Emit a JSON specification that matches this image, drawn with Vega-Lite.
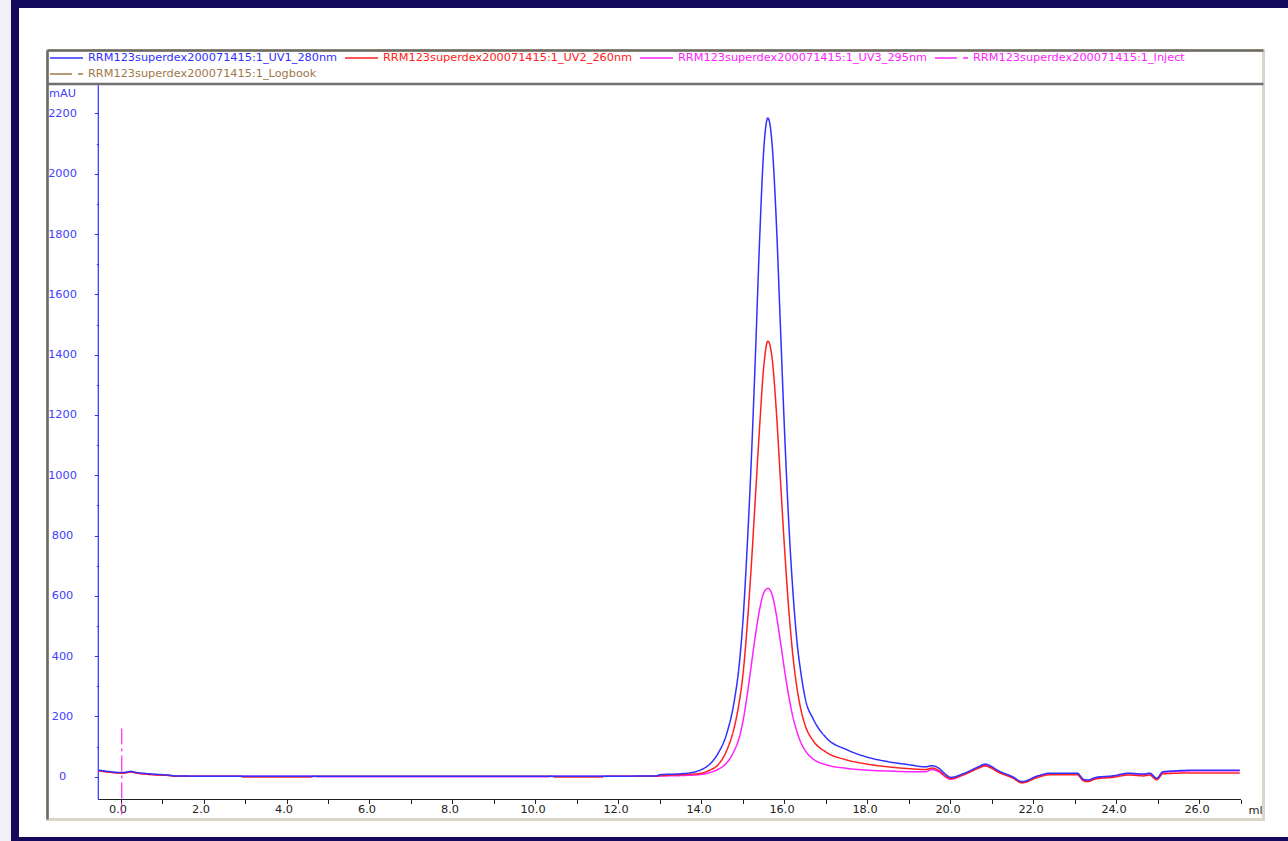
{
  "$schema": "https://vega.github.io/schema/vega-lite/v6.json",
  "width": 1277,
  "height": 837,
  "autosize": {"type": "none"},
  "padding": {"left": 15, "top": 4, "right": -4, "bottom": 0},
  "background": "#f0f0f5",
  "config": {"view": {"fill": "#ffffff", "stroke": "#15095e", "strokeWidth": 8}, "font": "DejaVu Sans"},
  "resolve": {"axis": {"x": "independent", "y": "independent"}},
  "layer": [
    {
      "data": {"values": [{}]},
      "mark": {"type": "rect", "fill": "#ffffff", "fillOpacity": 0, "stroke": "#dad6ca", "strokeWidth": 3},
      "encoding": {
        "x": {"datum": -1.759, "type": "quantitative", "scale": {"domain": [-2.5422, 28.229], "nice": false, "zero": false}, "axis": null},
        "x2": {"datum": 27.542},
        "y": {"datum": 2409, "type": "quantitative", "scale": {"domain": [-212.94, 2563.18], "nice": false, "zero": false}, "axis": null},
        "y2": {"datum": -141.6}
      }
    },
    {
      "data": {"values": [{}]},
      "mark": {"type": "rule", "stroke": "#6d6b60", "strokeWidth": 2.5},
      "encoding": {
        "x": {"datum": -1.759, "type": "quantitative", "scale": {"domain": [-2.5422, 28.229], "nice": false, "zero": false}, "axis": null},
        "x2": {"datum": 27.542},
        "y": {"datum": 2409, "type": "quantitative", "scale": {"domain": [-212.94, 2563.18], "nice": false, "zero": false}, "axis": null}
      }
    },
    {
      "data": {"values": [{}]},
      "mark": {"type": "rule", "stroke": "#6d6b60", "strokeWidth": 2.5},
      "encoding": {
        "x": {"datum": -1.759, "type": "quantitative", "scale": {"domain": [-2.5422, 28.229], "nice": false, "zero": false}, "axis": null},
        "y": {"datum": 2409, "type": "quantitative", "scale": {"domain": [-212.94, 2563.18], "nice": false, "zero": false}, "axis": null},
        "y2": {"datum": -141.6}
      }
    },
    {
      "data": {"values": [{}]},
      "mark": {"type": "rule", "stroke": "#707070", "strokeWidth": 2.5},
      "encoding": {
        "x": {"datum": -1.759, "type": "quantitative", "scale": {"domain": [-2.5422, 28.229], "nice": false, "zero": false}, "axis": null},
        "x2": {"datum": 27.542},
        "y": {"datum": 2297.8, "type": "quantitative", "scale": {"domain": [-212.94, 2563.18], "nice": false, "zero": false}, "axis": null}
      }
    },
    {
      "data": {"values": [{}]},
      "mark": {"type": "rule", "stroke": "#222222", "strokeWidth": 1.2},
      "encoding": {
        "x": {"datum": -0.535, "type": "quantitative", "scale": {"domain": [-2.5422, 28.229], "nice": false, "zero": false}, "axis": null},
        "x2": {"datum": 27.0},
        "y": {"datum": -75.3, "type": "quantitative", "scale": {"domain": [-212.94, 2563.18], "nice": false, "zero": false}, "axis": null}
      }
    },
    {
      "data": {"values": [{}]},
      "mark": {"type": "rule", "stroke": "#3030ff", "strokeWidth": 1.2},
      "encoding": {
        "x": {"datum": -0.535, "type": "quantitative", "scale": {"domain": [-2.5422, 28.229], "nice": false, "zero": false}, "axis": null},
        "y": {"datum": -75.3, "type": "quantitative", "scale": {"domain": [-212.94, 2563.18], "nice": false, "zero": false}, "axis": null},
        "y2": {"datum": 2294}
      }
    },
    {
      "data": {"values": [{"event": "Inject", "ml": 0.03, "top": 160, "bottom": -125}]},
      "mark": {"type": "rule", "stroke": "#ff22ff", "strokeWidth": 1.2, "strokeDash": [16, 4, 3, 4]},
      "encoding": {
        "x": {"field": "ml", "type": "quantitative", "scale": {"domain": [-2.5422, 28.229], "nice": false, "zero": false}, "axis": null},
        "y": {"field": "top", "type": "quantitative", "scale": {"domain": [-212.94, 2563.18], "nice": false, "zero": false}, "axis": null},
        "y2": {"field": "bottom"}
      }
    },
    {
      "data": {"values": [
        {"trace": "UV3_295nm", "ml": -0.53, "mAU": 20}, {"trace": "UV3_295nm", "ml": -0.3, "mAU": 16}, {"trace": "UV3_295nm", "ml": -0.1, "mAU": 13}, {"trace": "UV3_295nm", "ml": 0.05, "mAU": 12}, {"trace": "UV3_295nm", "ml": 0.15, "mAU": 14}, {"trace": "UV3_295nm", "ml": 0.25, "mAU": 16}, {"trace": "UV3_295nm", "ml": 0.4, "mAU": 12}, {"trace": "UV3_295nm", "ml": 0.6, "mAU": 9}, {"trace": "UV3_295nm", "ml": 0.9, "mAU": 6}, {"trace": "UV3_295nm", "ml": 1.2, "mAU": 4}, {"trace": "UV3_295nm", "ml": 1.3, "mAU": 2}, {"trace": "UV3_295nm", "ml": 2.0, "mAU": 1.5}, {"trace": "UV3_295nm", "ml": 4.7, "mAU": 1.5}, {"trace": "UV3_295nm", "ml": 4.75, "mAU": 0.5}, {"trace": "UV3_295nm", "ml": 10.3, "mAU": 0.5}, {"trace": "UV3_295nm", "ml": 10.35, "mAU": 1.5}, {"trace": "UV3_295nm", "ml": 12.9, "mAU": 2}, {"trace": "UV3_295nm", "ml": 13.0, "mAU": 2.5}, {"trace": "UV3_295nm", "ml": 13.5, "mAU": 4}, {"trace": "UV3_295nm", "ml": 14.0, "mAU": 8}, {"trace": "UV3_295nm", "ml": 14.2, "mAU": 14}, {"trace": "UV3_295nm", "ml": 14.4, "mAU": 25}, {"trace": "UV3_295nm", "ml": 14.6, "mAU": 45}, {"trace": "UV3_295nm", "ml": 14.8, "mAU": 90}, {"trace": "UV3_295nm", "ml": 14.9, "mAU": 125}, {"trace": "UV3_295nm", "ml": 15.0, "mAU": 185}, {"trace": "UV3_295nm", "ml": 15.1, "mAU": 270}, {"trace": "UV3_295nm", "ml": 15.2, "mAU": 370}, {"trace": "UV3_295nm", "ml": 15.3, "mAU": 470}, {"trace": "UV3_295nm", "ml": 15.4, "mAU": 555}, {"trace": "UV3_295nm", "ml": 15.5, "mAU": 610}, {"trace": "UV3_295nm", "ml": 15.6, "mAU": 625}, {"trace": "UV3_295nm", "ml": 15.7, "mAU": 605}, {"trace": "UV3_295nm", "ml": 15.8, "mAU": 540}, {"trace": "UV3_295nm", "ml": 15.9, "mAU": 450}, {"trace": "UV3_295nm", "ml": 16.0, "mAU": 355}, {"trace": "UV3_295nm", "ml": 16.1, "mAU": 270}, {"trace": "UV3_295nm", "ml": 16.2, "mAU": 200}, {"trace": "UV3_295nm", "ml": 16.3, "mAU": 150}, {"trace": "UV3_295nm", "ml": 16.4, "mAU": 112}, {"trace": "UV3_295nm", "ml": 16.5, "mAU": 87}, {"trace": "UV3_295nm", "ml": 16.7, "mAU": 58}, {"trace": "UV3_295nm", "ml": 17.0, "mAU": 40}, {"trace": "UV3_295nm", "ml": 17.5, "mAU": 28}, {"trace": "UV3_295nm", "ml": 18.0, "mAU": 22}, {"trace": "UV3_295nm", "ml": 18.5, "mAU": 19}, {"trace": "UV3_295nm", "ml": 19.0, "mAU": 17}, {"trace": "UV3_295nm", "ml": 19.4, "mAU": 17}, {"trace": "UV3_295nm", "ml": 19.55, "mAU": 24}, {"trace": "UV3_295nm", "ml": 19.7, "mAU": 18}, {"trace": "UV3_295nm", "ml": 19.9, "mAU": -2}, {"trace": "UV3_295nm", "ml": 20.0, "mAU": -8}, {"trace": "UV3_295nm", "ml": 20.3, "mAU": 6}, {"trace": "UV3_295nm", "ml": 20.7, "mAU": 32}, {"trace": "UV3_295nm", "ml": 20.82, "mAU": 38}, {"trace": "UV3_295nm", "ml": 21.2, "mAU": 14}, {"trace": "UV3_295nm", "ml": 21.5, "mAU": -3}, {"trace": "UV3_295nm", "ml": 21.72, "mAU": -19}, {"trace": "UV3_295nm", "ml": 22.1, "mAU": 1}, {"trace": "UV3_295nm", "ml": 22.4, "mAU": 10}, {"trace": "UV3_295nm", "ml": 23.05, "mAU": 10}, {"trace": "UV3_295nm", "ml": 23.2, "mAU": -10}, {"trace": "UV3_295nm", "ml": 23.3, "mAU": -13}, {"trace": "UV3_295nm", "ml": 23.5, "mAU": -4}, {"trace": "UV3_295nm", "ml": 23.9, "mAU": 1}, {"trace": "UV3_295nm", "ml": 24.3, "mAU": 10}, {"trace": "UV3_295nm", "ml": 24.65, "mAU": 7}, {"trace": "UV3_295nm", "ml": 24.8, "mAU": 10}, {"trace": "UV3_295nm", "ml": 24.97, "mAU": -7}, {"trace": "UV3_295nm", "ml": 25.12, "mAU": 15}, {"trace": "UV3_295nm", "ml": 26.0, "mAU": 20}, {"trace": "UV3_295nm", "ml": 26.97, "mAU": 20},
        {"trace": "UV2_260nm", "ml": -0.53, "mAU": 20}, {"trace": "UV2_260nm", "ml": -0.3, "mAU": 16}, {"trace": "UV2_260nm", "ml": -0.1, "mAU": 13}, {"trace": "UV2_260nm", "ml": 0.05, "mAU": 12}, {"trace": "UV2_260nm", "ml": 0.15, "mAU": 14}, {"trace": "UV2_260nm", "ml": 0.25, "mAU": 16}, {"trace": "UV2_260nm", "ml": 0.4, "mAU": 12}, {"trace": "UV2_260nm", "ml": 0.6, "mAU": 9}, {"trace": "UV2_260nm", "ml": 0.9, "mAU": 6}, {"trace": "UV2_260nm", "ml": 1.2, "mAU": 4}, {"trace": "UV2_260nm", "ml": 1.3, "mAU": 2}, {"trace": "UV2_260nm", "ml": 2.0, "mAU": 1.5}, {"trace": "UV2_260nm", "ml": 2.9, "mAU": 1.5}, {"trace": "UV2_260nm", "ml": 2.95, "mAU": -0.5}, {"trace": "UV2_260nm", "ml": 4.6, "mAU": -0.5}, {"trace": "UV2_260nm", "ml": 4.65, "mAU": 1.5}, {"trace": "UV2_260nm", "ml": 10.4, "mAU": 1.5}, {"trace": "UV2_260nm", "ml": 10.45, "mAU": -0.5}, {"trace": "UV2_260nm", "ml": 11.6, "mAU": -0.5}, {"trace": "UV2_260nm", "ml": 11.65, "mAU": 1.5}, {"trace": "UV2_260nm", "ml": 12.9, "mAU": 2}, {"trace": "UV2_260nm", "ml": 13.0, "mAU": 4}, {"trace": "UV2_260nm", "ml": 13.5, "mAU": 7}, {"trace": "UV2_260nm", "ml": 13.8, "mAU": 9}, {"trace": "UV2_260nm", "ml": 14.0, "mAU": 12}, {"trace": "UV2_260nm", "ml": 14.2, "mAU": 22}, {"trace": "UV2_260nm", "ml": 14.4, "mAU": 40}, {"trace": "UV2_260nm", "ml": 14.6, "mAU": 85}, {"trace": "UV2_260nm", "ml": 14.8, "mAU": 170}, {"trace": "UV2_260nm", "ml": 14.9, "mAU": 240}, {"trace": "UV2_260nm", "ml": 15.0, "mAU": 340}, {"trace": "UV2_260nm", "ml": 15.1, "mAU": 500}, {"trace": "UV2_260nm", "ml": 15.2, "mAU": 700}, {"trace": "UV2_260nm", "ml": 15.3, "mAU": 930}, {"trace": "UV2_260nm", "ml": 15.4, "mAU": 1160}, {"trace": "UV2_260nm", "ml": 15.5, "mAU": 1360}, {"trace": "UV2_260nm", "ml": 15.6, "mAU": 1445}, {"trace": "UV2_260nm", "ml": 15.7, "mAU": 1390}, {"trace": "UV2_260nm", "ml": 15.8, "mAU": 1220}, {"trace": "UV2_260nm", "ml": 15.9, "mAU": 990}, {"trace": "UV2_260nm", "ml": 16.0, "mAU": 760}, {"trace": "UV2_260nm", "ml": 16.1, "mAU": 560}, {"trace": "UV2_260nm", "ml": 16.2, "mAU": 405}, {"trace": "UV2_260nm", "ml": 16.3, "mAU": 295}, {"trace": "UV2_260nm", "ml": 16.4, "mAU": 220}, {"trace": "UV2_260nm", "ml": 16.5, "mAU": 170}, {"trace": "UV2_260nm", "ml": 16.7, "mAU": 118}, {"trace": "UV2_260nm", "ml": 17.0, "mAU": 82}, {"trace": "UV2_260nm", "ml": 17.5, "mAU": 56}, {"trace": "UV2_260nm", "ml": 18.0, "mAU": 42}, {"trace": "UV2_260nm", "ml": 18.5, "mAU": 33}, {"trace": "UV2_260nm", "ml": 19.0, "mAU": 27}, {"trace": "UV2_260nm", "ml": 19.4, "mAU": 24}, {"trace": "UV2_260nm", "ml": 19.55, "mAU": 29}, {"trace": "UV2_260nm", "ml": 19.7, "mAU": 22}, {"trace": "UV2_260nm", "ml": 19.9, "mAU": 0}, {"trace": "UV2_260nm", "ml": 20.0, "mAU": -6}, {"trace": "UV2_260nm", "ml": 20.3, "mAU": 6}, {"trace": "UV2_260nm", "ml": 20.7, "mAU": 30}, {"trace": "UV2_260nm", "ml": 20.82, "mAU": 36}, {"trace": "UV2_260nm", "ml": 21.2, "mAU": 12}, {"trace": "UV2_260nm", "ml": 21.5, "mAU": -4}, {"trace": "UV2_260nm", "ml": 21.72, "mAU": -20}, {"trace": "UV2_260nm", "ml": 22.1, "mAU": -2}, {"trace": "UV2_260nm", "ml": 22.4, "mAU": 7}, {"trace": "UV2_260nm", "ml": 23.05, "mAU": 7}, {"trace": "UV2_260nm", "ml": 23.2, "mAU": -13}, {"trace": "UV2_260nm", "ml": 23.3, "mAU": -16}, {"trace": "UV2_260nm", "ml": 23.5, "mAU": -7}, {"trace": "UV2_260nm", "ml": 23.9, "mAU": -2}, {"trace": "UV2_260nm", "ml": 24.3, "mAU": 6}, {"trace": "UV2_260nm", "ml": 24.65, "mAU": 3}, {"trace": "UV2_260nm", "ml": 24.8, "mAU": 6}, {"trace": "UV2_260nm", "ml": 24.97, "mAU": -10}, {"trace": "UV2_260nm", "ml": 25.12, "mAU": 10}, {"trace": "UV2_260nm", "ml": 26.0, "mAU": 13}, {"trace": "UV2_260nm", "ml": 26.97, "mAU": 13},
        {"trace": "UV1_280nm", "ml": -0.53, "mAU": 22}, {"trace": "UV1_280nm", "ml": -0.3, "mAU": 18}, {"trace": "UV1_280nm", "ml": -0.1, "mAU": 15}, {"trace": "UV1_280nm", "ml": 0.05, "mAU": 14}, {"trace": "UV1_280nm", "ml": 0.15, "mAU": 16}, {"trace": "UV1_280nm", "ml": 0.25, "mAU": 18}, {"trace": "UV1_280nm", "ml": 0.4, "mAU": 14}, {"trace": "UV1_280nm", "ml": 0.6, "mAU": 11}, {"trace": "UV1_280nm", "ml": 0.9, "mAU": 8}, {"trace": "UV1_280nm", "ml": 1.2, "mAU": 5}, {"trace": "UV1_280nm", "ml": 1.3, "mAU": 3}, {"trace": "UV1_280nm", "ml": 2.0, "mAU": 2}, {"trace": "UV1_280nm", "ml": 3.0, "mAU": 2}, {"trace": "UV1_280nm", "ml": 5.0, "mAU": 1.5}, {"trace": "UV1_280nm", "ml": 8.0, "mAU": 1.5}, {"trace": "UV1_280nm", "ml": 10.0, "mAU": 1.5}, {"trace": "UV1_280nm", "ml": 12.0, "mAU": 2}, {"trace": "UV1_280nm", "ml": 12.9, "mAU": 3}, {"trace": "UV1_280nm", "ml": 13.0, "mAU": 7}, {"trace": "UV1_280nm", "ml": 13.5, "mAU": 10}, {"trace": "UV1_280nm", "ml": 13.8, "mAU": 15}, {"trace": "UV1_280nm", "ml": 14.0, "mAU": 24}, {"trace": "UV1_280nm", "ml": 14.2, "mAU": 42}, {"trace": "UV1_280nm", "ml": 14.4, "mAU": 78}, {"trace": "UV1_280nm", "ml": 14.6, "mAU": 140}, {"trace": "UV1_280nm", "ml": 14.8, "mAU": 260}, {"trace": "UV1_280nm", "ml": 14.9, "mAU": 360}, {"trace": "UV1_280nm", "ml": 15.0, "mAU": 520}, {"trace": "UV1_280nm", "ml": 15.1, "mAU": 760}, {"trace": "UV1_280nm", "ml": 15.2, "mAU": 1050}, {"trace": "UV1_280nm", "ml": 15.3, "mAU": 1400}, {"trace": "UV1_280nm", "ml": 15.4, "mAU": 1780}, {"trace": "UV1_280nm", "ml": 15.5, "mAU": 2080}, {"trace": "UV1_280nm", "ml": 15.6, "mAU": 2185}, {"trace": "UV1_280nm", "ml": 15.7, "mAU": 2100}, {"trace": "UV1_280nm", "ml": 15.8, "mAU": 1850}, {"trace": "UV1_280nm", "ml": 15.9, "mAU": 1500}, {"trace": "UV1_280nm", "ml": 16.0, "mAU": 1150}, {"trace": "UV1_280nm", "ml": 16.1, "mAU": 850}, {"trace": "UV1_280nm", "ml": 16.2, "mAU": 620}, {"trace": "UV1_280nm", "ml": 16.3, "mAU": 450}, {"trace": "UV1_280nm", "ml": 16.4, "mAU": 340}, {"trace": "UV1_280nm", "ml": 16.5, "mAU": 260}, {"trace": "UV1_280nm", "ml": 16.7, "mAU": 190}, {"trace": "UV1_280nm", "ml": 17.0, "mAU": 130}, {"trace": "UV1_280nm", "ml": 17.5, "mAU": 90}, {"trace": "UV1_280nm", "ml": 18.0, "mAU": 65}, {"trace": "UV1_280nm", "ml": 18.5, "mAU": 50}, {"trace": "UV1_280nm", "ml": 19.0, "mAU": 40}, {"trace": "UV1_280nm", "ml": 19.4, "mAU": 33}, {"trace": "UV1_280nm", "ml": 19.55, "mAU": 37}, {"trace": "UV1_280nm", "ml": 19.7, "mAU": 30}, {"trace": "UV1_280nm", "ml": 19.9, "mAU": 6}, {"trace": "UV1_280nm", "ml": 20.0, "mAU": -2}, {"trace": "UV1_280nm", "ml": 20.3, "mAU": 10}, {"trace": "UV1_280nm", "ml": 20.7, "mAU": 35}, {"trace": "UV1_280nm", "ml": 20.82, "mAU": 42}, {"trace": "UV1_280nm", "ml": 21.2, "mAU": 17}, {"trace": "UV1_280nm", "ml": 21.5, "mAU": 0}, {"trace": "UV1_280nm", "ml": 21.72, "mAU": -16}, {"trace": "UV1_280nm", "ml": 22.1, "mAU": 3}, {"trace": "UV1_280nm", "ml": 22.4, "mAU": 12}, {"trace": "UV1_280nm", "ml": 23.05, "mAU": 12}, {"trace": "UV1_280nm", "ml": 23.2, "mAU": -8}, {"trace": "UV1_280nm", "ml": 23.3, "mAU": -11}, {"trace": "UV1_280nm", "ml": 23.5, "mAU": -2}, {"trace": "UV1_280nm", "ml": 23.9, "mAU": 3}, {"trace": "UV1_280nm", "ml": 24.3, "mAU": 12}, {"trace": "UV1_280nm", "ml": 24.65, "mAU": 9}, {"trace": "UV1_280nm", "ml": 24.8, "mAU": 12}, {"trace": "UV1_280nm", "ml": 24.97, "mAU": -5}, {"trace": "UV1_280nm", "ml": 25.12, "mAU": 17}, {"trace": "UV1_280nm", "ml": 26.0, "mAU": 22}, {"trace": "UV1_280nm", "ml": 26.97, "mAU": 22}
      ]},
      "encoding": {
        "x": {"field": "ml", "type": "quantitative", "scale": {"domain": [-2.5422, 28.229], "nice": false, "zero": false},
          "axis": {"orient": "bottom", "offset": -41.5, "domain": false, "grid": false, "values": [0,1,2,3,4,5,6,7,8,9,10,11,12,13,14,15,16,17,18,19,20,21,22,23,24,25,26,27],
            "tickColor": "#222222", "tickSize": 4, "tickWidth": 1, "labelColor": "#222222", "labelFont": "DejaVu Sans", "labelFontSize": 11.3, "labelBaseline": "middle", "labelPadding": 5.5, "labelOffset": -3,
            "labelExpr": "datum.value % 2 === 0 ? format(datum.value, '.1f') : ''", "labelOverlap": false, "labelFlush": false, "labelBound": false,
            "title": "ml", "titleAlign": "left", "titleBaseline": "middle", "titleAnchor": "start", "titleX": 1233, "titleY": 11, "titleColor": "#222222", "titleFont": "DejaVu Sans", "titleFontSize": 11.3, "titleFontWeight": "normal"}},
        "y": {"field": "mAU", "type": "quantitative", "scale": {"domain": [-212.94, 2563.18], "nice": false, "zero": false},
          "axis": {"orient": "left", "offset": -83.3, "domain": false, "grid": false, "values": [0,100,200,300,400,500,600,700,800,900,1000,1100,1200,1300,1400,1500,1600,1700,1800,1900,2000,2100,2200],
            "tickColor": "#3030ff", "tickSize": {"condition": {"test": "datum.value % 200 !== 0", "value": 2}, "value": 4}, "tickWidth": 1, "labelColor": "#4040ff", "labelFont": "DejaVu Sans", "labelFontSize": 11.3, "labelAlign": "center", "labelBaseline": "middle", "labelPadding": 32.3,
            "labelExpr": "datum.value % 200 === 0 ? format(datum.value, 'd') : ''", "labelOverlap": false, "labelFlush": false, "labelBound": false,
            "title": "mAU", "titleAngle": 0, "titleAlign": "left", "titleBaseline": "middle", "titleAnchor": "start", "titleX": -49.8, "titleY": 89, "titleColor": "#4040ff", "titleFont": "DejaVu Sans", "titleFontSize": 11.3, "titleFontWeight": "normal"}},
        "color": {"field": "trace", "type": "nominal",
          "scale": {"domain": ["UV1_280nm", "UV2_260nm", "UV3_295nm", "Inject", "Logbook"], "range": ["#3030ff", "#ff2020", "#ff22ff", "#ff22ff", "#a07848"]},
          "legend": {"orient": "none", "legendX": 34, "legendY": 48, "direction": "horizontal", "columns": 4, "title": null, "symbolType": "stroke", "symbolSize": 1089, "symbolStrokeWidth": 1.5, "clipHeight": 12, "rowPadding": 4, "columnPadding": 6, "labelFont": "DejaVu Sans", "labelFontSize": 11.3, "labelOffset": 4, "labelLimit": 400, "padding": 0,
            "labelExpr": "'RRM123superdex200071415:1_' + datum.label",
            "encode": {"labels": {"update": {"fill": {"scale": "color", "field": "value"}}}}}},
        "strokeDash": {"field": "trace", "type": "nominal",
          "scale": {"domain": ["UV1_280nm", "UV2_260nm", "UV3_295nm", "Inject", "Logbook"], "range": [[1, 0], [1, 0], [1, 0], [22, 6, 5, 100], [22, 6, 5, 100]]},
          "legend": {"orient": "none", "legendX": 34, "legendY": 48, "direction": "horizontal", "columns": 4, "title": null, "symbolType": "stroke", "symbolSize": 1089, "symbolStrokeWidth": 1.5, "clipHeight": 12, "rowPadding": 4, "columnPadding": 6, "labelFont": "DejaVu Sans", "labelFontSize": 11.3, "labelOffset": 4, "labelLimit": 400, "padding": 0,
            "labelExpr": "'RRM123superdex200071415:1_' + datum.label",
            "encode": {"labels": {"update": {"fill": {"scale": "color", "field": "value"}}}}}}
      },
      "layer": [
        {"transform": [{"filter": "datum.trace === 'UV3_295nm'"}], "mark": {"type": "line", "strokeWidth": 1.5, "interpolate": "monotone"}},
        {"transform": [{"filter": "datum.trace === 'UV2_260nm'"}], "mark": {"type": "line", "strokeWidth": 1.5, "interpolate": "monotone"}},
        {"transform": [{"filter": "datum.trace === 'UV1_280nm'"}], "mark": {"type": "line", "strokeWidth": 1.5, "interpolate": "monotone"}}
      ]
    }
  ]
}
